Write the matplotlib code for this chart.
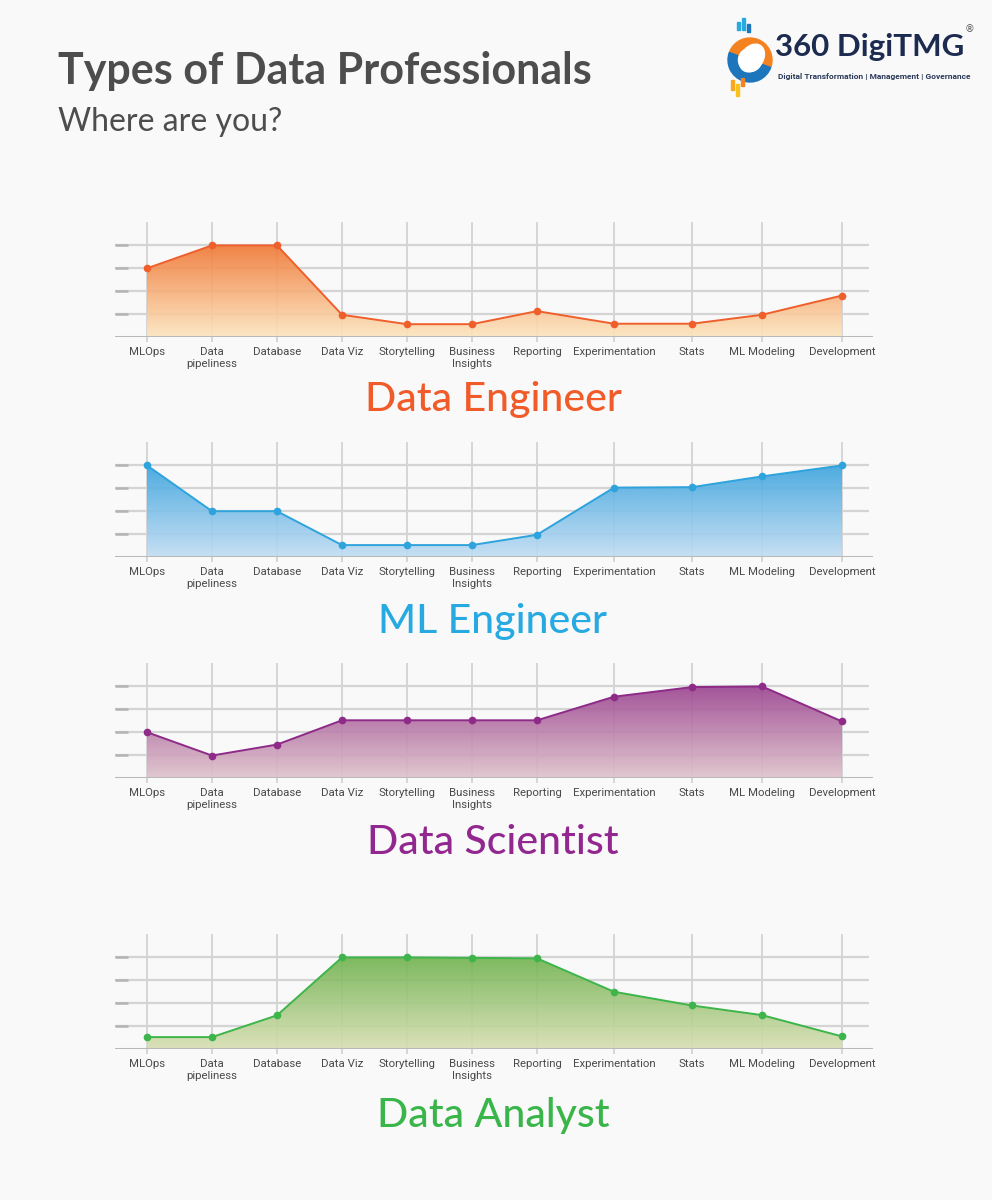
import numpy as np
import matplotlib
matplotlib.use('Agg')
import matplotlib.pyplot as plt
from matplotlib.colors import LinearSegmentedColormap
from matplotlib.patches import Wedge, Ellipse, Rectangle

# skill categories along the x axis
skills = ['MLOps', 'Data\npipeliness', 'Database', 'Data Viz', 'Storytelling',
          'Business\nInsights', 'Reporting', 'Experimentation', 'Stats',
          'ML Modeling', 'Development']

# skill level for each role (0-4 scale)
data_engineer = [3.0, 4.0, 4.0, 0.97, 0.56, 0.56, 1.13, 0.58, 0.58, 0.97, 1.81]
ml_engineer = [4.0, 2.0, 2.0, 0.52, 0.52, 0.52, 0.97, 3.03, 3.05, 3.52, 4.0]
data_scientist = [2.0, 0.98, 1.46, 2.52, 2.52, 2.52, 2.52, 3.55, 3.97, 4.0, 2.47]
data_analyst = [0.52, 0.52, 1.47, 4.0, 4.0, 3.98, 3.96, 2.5, 1.9, 1.48, 0.55]

roles = ['Data Engineer', 'ML Engineer', 'Data Scientist', 'Data Analyst']
series = [data_engineer, ml_engineer, data_scientist, data_analyst]

# styling: line colour, gradient top, gradient bottom, title colour
styles = [
    ('#ef5f2b', '#f07632', '#fde6bf', '#f15a29'),
    ('#2ea3dc', '#3aa3de', '#c2ddf3', '#27a9e1'),
    ('#8e2a88', '#9a418e', '#dfc3cb', '#92278f'),
    ('#3db54b', '#6fb24d', '#d8dfb3', '#39b54a'),
]

# layout in pixels of the 992x1200 canvas
W, H = 992, 1200
slot_x = [147, 212, 277, 342, 407, 472, 537, 614, 692, 762, 842]
x_left, x_right = 115, 873
panels = [(222, 337, 400), (442, 557, 622), (663, 778, 843), (934, 1049, 1115)]
unit = 22.9  # pixels per level

bg = '#f9f9f9'
fig = plt.figure(figsize=(W / 100, H / 100), dpi=100, facecolor=bg)

tick_font = ['Roboto', 'DejaVu Sans']
head_font = ['Lato', 'DejaVu Sans']

for vals, role, (top, base, title_y), (lc, c_top, c_bot, tc) in zip(series, roles, panels, styles):
    ax = fig.add_axes([x_left / W, 1 - base / H, (x_right - x_left) / W, (base - top) / H])
    ax.set_facecolor('none')
    ymax = (base - top) / unit
    ax.set_xlim(x_left, x_right)
    ax.set_ylim(0, ymax)
    ax.axis('off')

    # grid
    ax.vlines(slot_x, -0.2, ymax, color='#cfcfcf', lw=1.2, clip_on=False, zorder=1)
    ax.hlines([1, 2, 3, 4], x_left, 869, color='#d4d4d4', lw=1.6, zorder=1)
    ax.hlines([1, 2, 3, 4], x_left, 128, color='#b3b3b3', lw=1.8, zorder=1)
    ax.axhline(0, color='#b9b9b9', lw=2.2, zorder=4)

    # gradient area
    poly = ax.fill_between(slot_x, vals, 0, facecolor='none', edgecolor='none')
    cmap = LinearSegmentedColormap.from_list(role, [c_bot, c_top])
    grad = np.linspace(0, 1, 256).reshape(-1, 1)
    im = ax.imshow(grad, extent=[x_left, x_right, 0, 4], origin='lower', aspect='auto',
                   cmap=cmap, alpha=0.9, zorder=2)
    im.set_clip_path(poly.get_paths()[0], transform=ax.transData)
    ax.set_xlim(x_left, x_right)
    ax.set_ylim(0, ymax)

    ax.plot(slot_x, vals, color=lc, lw=1.4, marker='o', ms=4.5, zorder=5, clip_on=False)

    for x, lab in zip(slot_x, skills):
        ax.text(x, -0.42, lab, ha='center', va='top', fontsize=8.2, color='#4a4a4a',
                family=tick_font, linespacing=1.3)

    fig.text(493 / W, 1 - title_y / H, role, ha='center', va='center', fontsize=29.5,
             color=tc, family=head_font, fontweight='medium')

# headings
fig.text(58 / W, 1 - 71 / H, 'Types of Data Professionals', ha='left', va='center',
         fontsize=31, fontweight='bold', color='#4d4d4d', family=head_font)
fig.text(58 / W, 1 - 122 / H, 'Where are you?', ha='left', va='center',
         fontsize=23, color='#4d4d4d', family=head_font)

# logo
deco = fig.add_axes([0, 0, 1, 1], facecolor='none')
deco.set_xlim(0, W)
deco.set_ylim(H, 0)
deco.axis('off')
deco.add_patch(Wedge((750, 60), 22, 200, 20, width=9, color='#f58220'))
deco.add_patch(Wedge((750, 60), 22, 20, 200, width=9, color='#1d75bc'))
deco.add_patch(Ellipse((752, 58), 22, 30, angle=35, color='white'))
for bx, by, bh, bc in [(737, 22, 8, '#27a9e1'), (742, 18, 12, '#27a9e1'), (747, 24, 8, '#1d75bc'),
                       (731, 80, 10, '#f7a823'), (736, 84, 12, '#f7c31b'), (741, 78, 8, '#f58220')]:
    deco.add_patch(Rectangle((bx, by), 2.6, bh, color=bc))
fig.text(775 / W, 1 - 47 / H, '360 DigiTMG', ha='left', va='center', fontsize=22.5,
         fontweight='bold', color='#1c2b4f', family=head_font)
fig.text(778 / W, 1 - 76 / H, 'Digital Transformation | Management | Governance', ha='left',
         va='center', fontsize=6.0, fontweight='bold', color='#2b3a5a', family=tick_font)
fig.text(970 / W, 1 - 29 / H, '®', ha='center', va='center', fontsize=7, color='#555555')

fig.savefig('out.png', dpi=100, facecolor=bg)
